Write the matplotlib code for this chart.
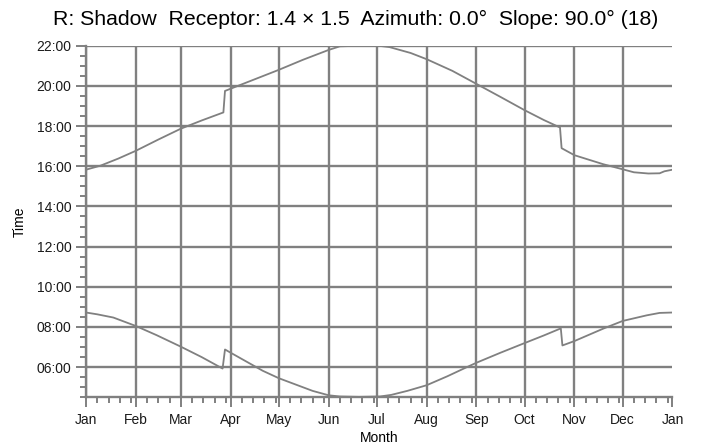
import matplotlib
matplotlib.use('Agg')
import matplotlib.pyplot as plt
from matplotlib.ticker import FixedLocator, MultipleLocator

plt.rcParams['font.family'] = ['Liberation Sans', 'DejaVu Sans']

# Month ticks (day of year where each month starts)
month_labels = ['Jan', 'Feb', 'Mar', 'Apr', 'May', 'Jun', 'Jul',
                'Aug', 'Sep', 'Oct', 'Nov', 'Dec', 'Jan']
month_starts = [0, 31, 59, 90, 120, 151, 181, 212, 243, 273, 304, 334, 365]

hour_ticks = [6, 8, 10, 12, 14, 16, 18, 20, 22]
hour_labels = ['06:00', '08:00', '10:00', '12:00', '14:00', '16:00',
               '18:00', '20:00', '22:00']

# Upper curve (sunset): day of year / hour
sunset_day = [0, 9, 20, 31, 45, 59, 72, 85.5, 86.5, 90, 105, 120, 135,
              151, 158, 170, 182, 189, 202, 212, 228, 243, 258, 273,
              285, 295, 296, 304, 322, 334, 341, 350, 357, 360, 365]
sunset_hour = [15.83, 16.03, 16.38, 16.77, 17.33, 17.87, 18.28, 18.68,
               19.75, 19.86, 20.33, 20.8, 21.3, 21.79, 21.97, 22.0,
               22.0, 21.93, 21.64, 21.33, 20.75, 20.1, 19.45, 18.79,
               18.3, 17.93, 16.9, 16.55, 16.1, 15.85, 15.7, 15.64,
               15.65, 15.75, 15.83]

# Lower curve (sunrise)
sunrise_day = [0, 7, 17, 31, 44, 59, 72, 85, 86.5, 90, 110, 120, 141,
               151, 158, 170, 183, 190, 200, 212, 225, 237, 243, 258,
               273, 285, 295.5, 296.5, 304, 322, 334, 349, 357, 365]
sunrise_hour = [8.72, 8.63, 8.47, 8.05, 7.59, 7.02, 6.5, 5.93, 6.88,
                6.72, 5.82, 5.45, 4.82, 4.6, 4.54, 4.52, 4.54, 4.62,
                4.82, 5.1, 5.55, 6.0, 6.22, 6.72, 7.2, 7.58, 7.93, 7.08,
                7.3, 7.92, 8.3, 8.58, 8.7, 8.72]

grey = '#808080'

fig = plt.figure(figsize=(7.01, 4.44), dpi=100)
ax = fig.add_axes([0.1227, 0.1052, 0.8366, 0.7918])

ax.plot(sunset_day, sunset_hour, color=grey, lw=1.3, zorder=3)
ax.plot(sunrise_day, sunrise_hour, color=grey, lw=1.3, zorder=3)

ax.set_xlim(0, 365)
ax.set_ylim(4.5, 22)

ax.set_xticks(month_starts)
ax.set_xticklabels(month_labels)
minor_days = [s + k for s in month_starts[:-1] for k in (7, 14, 21, 28)
              if s + k < 365 and s + k not in month_starts]
ax.xaxis.set_minor_locator(FixedLocator(minor_days))

ax.set_yticks(hour_ticks)
ax.set_yticklabels(hour_labels)
ax.yaxis.set_minor_locator(MultipleLocator(0.5))

ax.grid(True, which='major', color=grey, lw=1.7)
ax.xaxis.get_gridlines()[-1].set_visible(False)

for s in ['top', 'right']:
    ax.spines[s].set_visible(False)
for s in ['left', 'bottom']:
    ax.spines[s].set_color(grey)
    ax.spines[s].set_linewidth(1.7)

ax.tick_params(which='major', length=7.5, width=1.4, color=grey,
               labelsize=10, labelcolor='#1a1a1a', pad=3)
ax.tick_params(which='minor', length=4, width=1.4, color=grey)
ax.tick_params(axis='x', which='major', pad=4)

ax.set_xlabel('Month', fontsize=10, labelpad=2.5)
ax.set_ylabel('Time', fontsize=10, labelpad=7)

fig.text(0.508, 0.957, 'R: Shadow  Receptor: 1.4 \u00d7 1.5  Azimuth: 0.0\u00b0  Slope: 90.0\u00b0 (18)',
         ha='center', va='center', fontsize=15.3)

fig.savefig('out.png', dpi=100)
